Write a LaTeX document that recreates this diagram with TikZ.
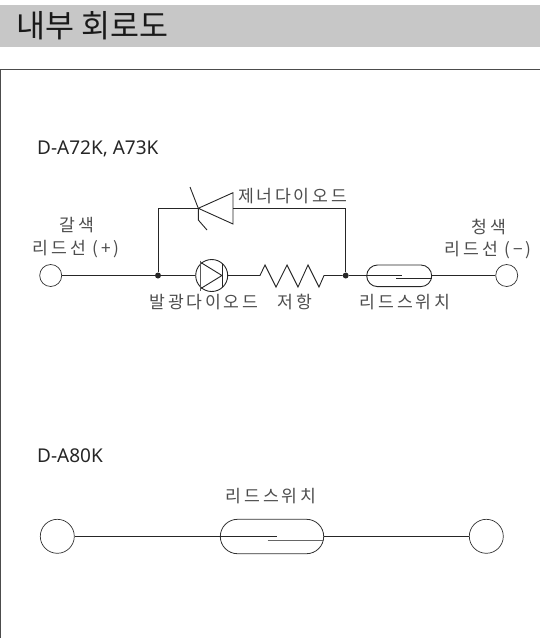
\documentclass[tikz,border=0pt]{standalone}
\usepackage{fontspec}
\setmainfont{Noto Sans}
\newfontfamily\krfont[LetterSpace=16]{Noto Sans CJK KR}
\newfontfamily\krtitle{Noto Sans CJK KR}
\tikzset{
  wire/.style={line width=0.9pt,draw=black!85},
  term/.style={circle,draw=black!80,line width=0.7pt,fill=white,inner sep=0pt,minimum size=#1},
  dot/.style={circle,fill=black!85,inner sep=0pt,minimum size=6pt},
  reed/.style={draw=black!85,line width=0.9pt,rectangle,inner sep=0pt},
  lbl/.style={inner sep=0pt,text=black!70,font=\krfont\fontsize{17.2}{17.2}\selectfont},
  model/.style={inner sep=0pt,anchor=west,text=black!85,font=\fontsize{19}{19}\selectfont},
}
\begin{document}
\begin{tikzpicture}[x=1pt,y=-1pt]
\useasboundingbox (0,0) rectangle (540,638);
\fill[black!22!white] (0,5) rectangle (540,47);
\node[anchor=west,inner sep=0pt,text=black!90,font=\krtitle\fontsize{31.5}{31.5}\selectfont] (title) at (16,25.5) {내부 회로도};
\draw[black!70,line width=0.8pt] (0.4,638) -- (0.4,69.6) -- (540,69.6);
\node[model] (m1) at (37,148.5) {D-A72K, A73K};
\node[model] (m2) at (37,456) {D-A80K};
% first circuit
\node[term=22pt] (tl) at (50.7,275.5) {};
\node[term=22pt] (tr) at (506.7,275.5) {};
\node[dot] (j1) at (158,275.5) {};
\node[dot] (j2) at (345.7,275.5) {};
\node[term=32pt,draw=black!85,line width=0.9pt] (led) at (211.7,275.5) {};
\coordinate (rs) at (260,275.5);
\coordinate (re) at (324,275.5);
\node[reed,minimum width=65pt,minimum height=21.6pt,rounded corners=10.8pt] (sw) at (399.2,275.8) {};
\coordinate (za) at (198.3,208.3);
\coordinate (zb) at (233,208.3);
\coordinate (zt) at (345.7,208.3);
\coordinate (zl) at (158,208.3);
\draw[wire] (tl) -- (j1) -- (led);
\draw[wire] (led) -- (rs) -- (265,265) -- (276,287) -- (287,265) -- (298,287) -- (308,265) -- (319,287) -- (re) -- (j2);
\draw[wire] (j1) -- (zl) -- (za);
\draw[wire] (zb) -- (zt) -- (j2);
\draw[wire] (233,192.7) -- (za) -- (233,224) -- cycle;
\draw[wire] (190,187) -- (za) -- (198.3,220) -- (207,230);
\draw[wire] (200.8,262.5) -- (222,275.5) -- (200.8,288.5);
\draw[wire,line width=1.1pt,black!65] (200.8,260.5) -- (200.8,290.5);
\draw[wire] (222,264) -- (222,287);
\coordinate (c1) at (401.7,275.5);
\coordinate (c2) at (396,278.2);
\draw[wire] (j2) -- (c1);
\draw[wire] (c2) -- (sw.east |- c2);
\draw[wire] (sw.east |- tr) -- (tr);
\node[lbl] (l1) at (77,225) {갈색};
\node[lbl] (l2) at (76,249) {리드선 (+)};
\node[lbl,anchor=west] (l3) at (238,196.5) {제너다이오드};
\node[lbl] (l4) at (204,302) {발광다이오드};
\node[lbl] (l5) at (295,302) {저항};
\node[lbl] (l6) at (405,302) {리드스위치};
\node[lbl] (l7) at (489,227) {청색};
\node[lbl] (l8) at (488,250) {리드선 (−)};
% second circuit
\node[term=34pt] (bl) at (57.3,536.3) {};
\node[term=34pt] (br) at (486.3,536.3) {};
\node[reed,draw=black!80,line width=0.8pt,minimum width=103.4pt,minimum height=34.4pt,rounded corners=17.2pt] (bs) at (272,536.5) {};
\coordinate (d1) at (276.7,536.3);
\coordinate (d2) at (267.7,540.7);
\draw[wire] (bl) -- (d1);
\draw[wire,black!60] (d2) -- (bs.east |- d2);
\draw[wire] (bs.east |- br) -- (br);
\node[lbl] (l9) at (271,496) {리드스위치};
\end{tikzpicture}
\end{document}
